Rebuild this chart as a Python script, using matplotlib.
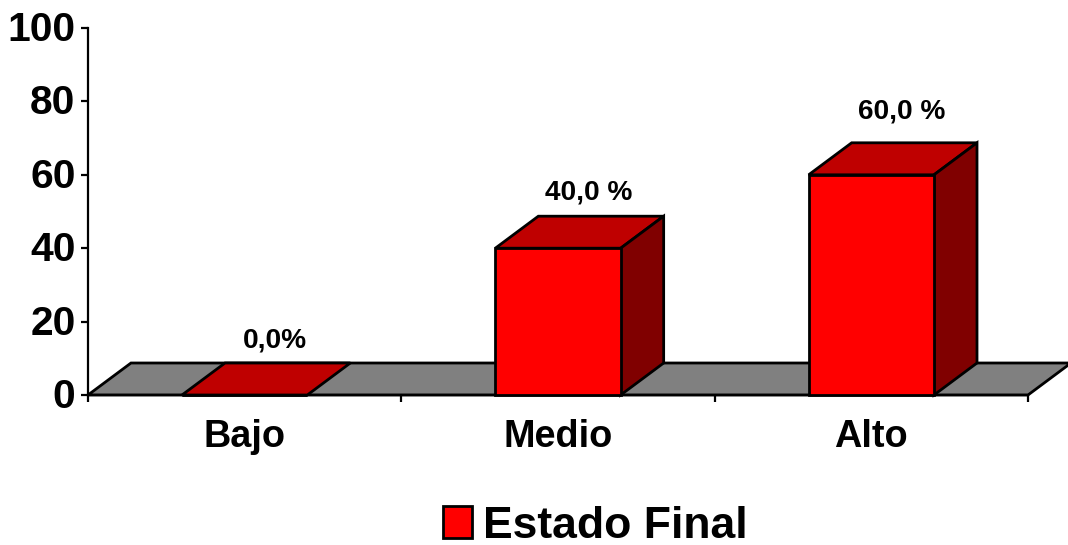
import matplotlib
matplotlib.use('Agg')
import matplotlib.pyplot as plt
from matplotlib.patches import Polygon, Patch
from matplotlib.transforms import ScaledTranslation

categories = ['Bajo', 'Medio', 'Alto']
values = [0, 40, 60]
value_labels = ['0,0%', '40,0 %', '60,0 %']
y_ticks = [0, 20, 40, 60, 80, 100]
series_name = 'Estado Final'

plt.rcParams['font.family'] = ['Liberation Sans', 'DejaVu Sans']
plt.rcParams['font.weight'] = 'bold'

W, H = 1068, 545
fig = plt.figure(figsize=(W / 100, H / 100), dpi=100)
# axes box taken from the plot area in pixels
ax = fig.add_axes([88 / W, 1 - 395 / H, 940 / W, 367 / H])
ax.set_xlim(0, 3)
ax.set_ylim(0, 100)

# 3d depth of the fake perspective, in data units
dx = 43 / (940 / 3)
dy = 32 / 3.67
bar_w = 0.4
lw = 2.0

floor = Polygon([(0, 0), (3, 0), (3 + dx, dy), (dx, dy)], closed=True, facecolor='#808080',
                edgecolor='black', lw=lw, clip_on=False, zorder=1)
ax.add_patch(floor)

x_pos = [i + 0.5 for i in range(len(categories))]
for x, v in zip(x_pos, values):
    x0 = x - bar_w / 2
    x1 = x + bar_w / 2
    top = Polygon([(x0, v), (x1, v), (x1 + dx, v + dy), (x0 + dx, v + dy)], closed=True,
                  facecolor='#BF0000', edgecolor='black', lw=lw, clip_on=False, zorder=2)
    ax.add_patch(top)
    if v > 0:
        side = Polygon([(x1, 0), (x1 + dx, dy), (x1 + dx, v + dy), (x1, v)], closed=True,
                       facecolor='#800000', edgecolor='black', lw=lw, clip_on=False, zorder=2)
        ax.add_patch(side)
ax.bar(x_pos, values, width=bar_w, color='#FF0000', edgecolor='black', lw=lw, zorder=3, clip_on=False)

# label gap above the bar, varies a bit in the original
label_gap = [14.8, 15.2, 17.2]
for x, v, txt, gap in zip(x_pos, values, value_labels, label_gap):
    ax.text(x + 0.097, v + gap, txt, ha='center', va='center', fontsize=20.2, fontweight='bold',
            color='black', clip_on=False)

for s in ['top', 'right']:
    ax.spines[s].set_visible(False)
for s in ['left', 'bottom']:
    ax.spines[s].set_linewidth(1.6)
    ax.spines[s].set_zorder(1.5)

ax.set_yticks(y_ticks)
ax.set_yticklabels([str(t) for t in y_ticks], fontsize=29.3, fontweight='bold')
ax.tick_params(axis='y', length=5, width=1.6, pad=4, labelsize=29.3)
# tick labels sit about 2px higher in the original
shift_up = ScaledTranslation(0, 2 / 100, fig.dpi_scale_trans)
for lab in ax.get_yticklabels():
    lab.set_transform(lab.get_transform() + shift_up)
ax.set_xticks(range(len(categories) + 1))
ax.set_xticklabels([])
ax.tick_params(axis='x', length=5, width=1.6)
for x, c in zip(x_pos, categories):
    ax.annotate(c, (x, 0), xytext=(0, -30.5), textcoords='offset points', ha='center', va='center',
                fontsize=27.3, fontweight='bold')

handle = Patch(facecolor='#FF0000', edgecolor='black', lw=lw, label=series_name)
fig.legend(handles=[handle], loc='center', bbox_to_anchor=(595 / W, 1 - 526 / H), frameon=False,
           handlelength=0.65, handleheight=0.72, handletextpad=0.25,
           prop={'size': 32, 'weight': 'bold'})

fig.savefig('out.png', dpi=100)
